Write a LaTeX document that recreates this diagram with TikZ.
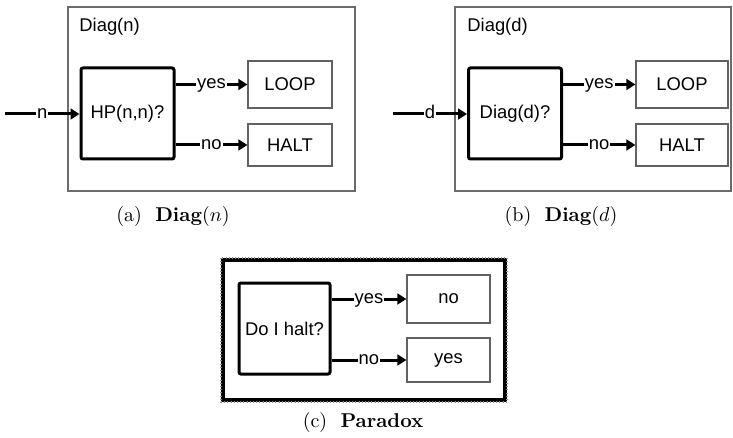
\documentclass[tikz,border=0pt]{standalone}
\usepackage{fontspec}
\newfontfamily\arialf{Liberation Sans}
\usetikzlibrary{arrows.meta}
\begin{document}
\begin{tikzpicture}[x=0.5pt,y=-0.5pt,
  frame/.style={draw=black!58,line width=0.7pt,minimum width=#1,inner sep=0pt},
  decision/.style={draw=black,line width=1.5pt,rounded corners=1pt,inner sep=0pt,
     minimum width=46.5pt,minimum height=45.5pt,font=\arialf\fontsize{9.2}{11}\selectfont},
  result/.style={draw=black!62,line width=0.6pt,inner sep=0pt,
     font=\arialf\fontsize{9.2}{11}\selectfont},
  title/.style={anchor=west,inner sep=0pt,font=\arialf\fontsize{9.2}{11}\selectfont},
  flow/.style={line width=1.5pt,-{Triangle[length=4.5pt,width=5.4pt]}},
  lbl/.style={fill=white,inner xsep=0.5pt,inner ysep=0pt,text height=1ex,text depth=0pt,
     font=\arialf\fontsize{9.2}{11}\selectfont},
  captext/.style={inner sep=0pt,font=\fontsize{10}{12}\selectfont}
]
\useasboundingbox (0,0) rectangle (733,438);
% ---------- (a)
\node[frame=143.5pt,minimum height=92pt] (frameA) at (211.5,99) {};
\node[title] (titleA) at (79,27) {Diag(n)};
\node[decision] (hpA) at (127.5,113.5) {HP(n,n)?};
\node[result,minimum width=42pt,minimum height=23.5pt] (loopA) at (290,84.5) {LOOP};
\node[result,minimum width=42pt,minimum height=21pt] (haltA) at (290,145) {HALT};
\coordinate (inA) at (5,114);
\draw[flow] (inA) -- node[lbl] {n} (inA -| hpA.west);
\draw[flow] (hpA.east |- loopA.west) -- node[lbl] {yes} (loopA.west);
\draw[flow] (hpA.east |- haltA.west) -- node[lbl] {no} (haltA.west);
\node[captext] (capA) at (173,217) {(a)\ \ \textbf{Diag}$(n)$};
% ---------- (b)
\node[frame=138pt,minimum height=92pt] (frameB) at (593,99) {};
\node[title] (titleB) at (467,27) {Diag(d)};
\node[decision] (hpB) at (515,113.5) {Diag(d)?};
\node[result,minimum width=46pt,minimum height=23.5pt] (loopB) at (682,84.5) {LOOP};
\node[result,minimum width=46pt,minimum height=21pt] (haltB) at (682,145) {HALT};
\coordinate (inB) at (393,114);
\draw[flow] (inB) -- node[lbl] {d} (inB -| hpB.west);
\draw[flow] (hpB.east |- loopB.west) -- node[lbl] {yes} (loopB.west);
\draw[flow] (hpB.east |- haltB.west) -- node[lbl] {no} (haltB.west);
\node[captext] (capB) at (561,217) {(b)\ \ \textbf{Diag}$(d)$};
% ---------- (c)
\node[draw=black,line width=2pt,inner sep=0pt,minimum width=141pt,minimum height=70pt] (frameC) at (364,330) {};
\draw[black!45,line width=0.7pt,dash pattern=on 0.5pt off 1.1pt] (frameC.north west) rectangle (frameC.south east);
\node[decision,minimum width=45.5pt] (hpC) at (284.5,328.5) {Do I halt?};
\node[result,minimum width=41.5pt,minimum height=24pt] (resNo) at (448.5,299) {no};
\node[result,minimum width=41.5pt,minimum height=22pt] (resYes) at (448.5,360) {yes};
\draw[flow] (hpC.east |- resNo.west) -- node[lbl] {yes} (resNo.west);
\draw[flow] (hpC.east |- resYes.west) -- node[lbl] {no} (resYes.west);
\node[captext] (capC) at (363,422) {(c)\ \ \textbf{Paradox}};
\end{tikzpicture}
\end{document}
